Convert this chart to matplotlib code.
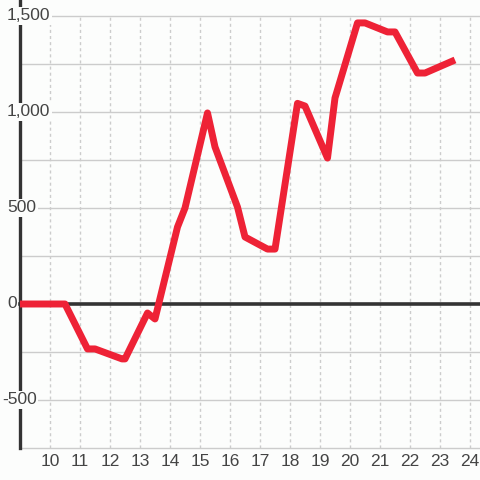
import matplotlib
matplotlib.use("Agg")
import matplotlib.pyplot as plt

# data
heures = [9.0, 10.5, 11.25, 11.5, 12.4, 12.5, 13.25, 13.5, 14.25, 14.5,
          15.25, 15.5, 16.25, 16.5, 17.25, 17.5, 18.25, 18.5, 19.25, 19.5,
          20.25, 20.5, 21.25, 21.5, 22.25, 22.5, 23.5]
valeurs = [0, 0, -234, -234, -286, -286, -47, -78, 401, 500,
           995, 818, 505, 349, 286, 286, 1045, 1031, 760, 1073,
           1464, 1464, 1417, 1417, 1203, 1203, 1271]
xticks = list(range(10, 25))
yticks = [-500, 0, 500, 1000, 1500]
ylabels = ["-500", "0", "500", "1,000", "1,500"]
ygrid = [-750, -500, -250, 250, 500, 750, 1000, 1250, 1500]

fond = "#fcfdfc"
rouge = "#ee2236"
fonce = "#333333"
gris = "#cccccc"

plt.rcParams['font.family'] = ['Liberation Sans', 'DejaVu Sans']

fig = plt.figure(figsize=(4.8, 4.8), dpi=100, facecolor=fond)
ax = fig.add_axes([0, 0, 1, 1])
ax.set_facecolor(fond)
ax.set_xlim(10 - 50 / 30, 10 + 430 / 30)
ax.set_ylim(-(480 - 304) * 500 / 96, 304 * 500 / 96)
ax.axis("off")

xmin = 9.0
# grilles
for y in ygrid:
    ax.plot([xmin, 24.5], [y, y], color=gris, lw=1, zorder=1)
for x in xticks:
    ax.plot([x, x], [-750, 1500], color=gris, lw=1, ls=(0, (2.2, 2.2)), zorder=1)

# axe zero et axe gauche
ax.plot([xmin, 24.5], [0, 0], color=fonce, lw=2.6, zorder=2)
ax.plot([xmin, xmin], [-750, 1600], color=fonce, lw=2.4, zorder=2)

# la serie
ax.plot(heures, valeurs, color=rouge, lw=5, solid_joinstyle="round",
        solid_capstyle="butt", zorder=4)

# etiquettes
for x in xticks:
    ax.text(x, -818, str(x), ha="center", va="center", fontsize=12.5,
            color="#444444", zorder=5)
for y, lab in zip(yticks, ylabels):
    xpos = 8.4 if lab.startswith("-") else 8.57
    ax.text(xpos, y, lab, ha="left", va="center", fontsize=12.5, color="#444444",
            zorder=5, bbox=dict(facecolor=fond, edgecolor="none", pad=1.2))

fig.savefig("out.png", dpi=100, facecolor=fond)
